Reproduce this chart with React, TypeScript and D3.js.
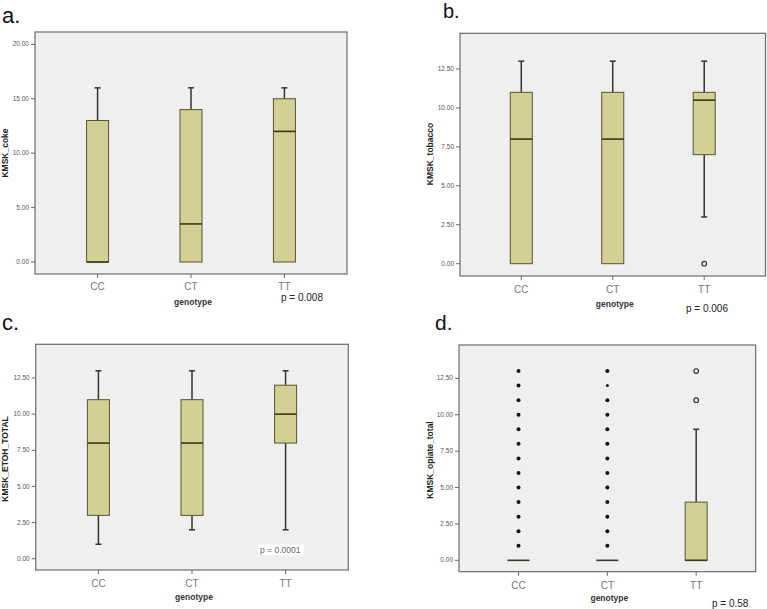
import React from "react";
import * as d3 from "d3";

const genotypes = ["CC", "CT", "TT"];

// a. KMSK_coke
const cokeMin = [0, 0, 0];
const cokeQ1 = [0, 0, 0];
const cokeMedian = [0, 3.5, 12];
const cokeQ3 = [13, 14, 15];
const cokeMax = [16, 16, 16];
const cokeTicks = [0, 5, 10, 15, 20];

// b. KMSK_tobacco
const tobMin = [0, 0, 3];
const tobQ1 = [0, 0, 7];
const tobMedian = [8, 8, 10.5];
const tobQ3 = [11, 11, 11];
const tobMax = [13, 13, 13];
const tobOutliersTT = [0];
const quarterTicks = [0, 2.5, 5, 7.5, 10, 12.5];

// c. KMSK_ETOH_TOTAL
const etohMin = [1, 2, 2];
const etohQ1 = [3, 3, 8];
const etohMedian = [8, 8, 10];
const etohQ3 = [11, 11, 12];
const etohMax = [13, 13, 13];

// d. KMSK_opiate_total
const opMin = [0, 0, 0];
const opQ1 = [0, 0, 0];
const opMedian = [0, 0, 0];
const opQ3 = [0, 0, 4];
const opMax = [0, 0, 9];
const opExtremesCC = [1, 2, 3, 4, 5, 6, 7, 8, 9, 10, 11, 12, 13];
const opExtremesCT = [1, 2, 3, 4, 5, 6, 7, 8, 9, 10, 11, 12, 13];
const opOutliersTT = [11, 13];

type Panel = {
  letter: string;
  letterX: number;
  letterY: number;
  letterSize: number;
  x0: number;
  x1: number;
  y0: number;
  y1: number;
  domain: [number, number];
  ticks: number[];
  ylabel: string;
  ylabelX: number;
  ylabelY: number;
  min: number[];
  q1: number[];
  med: number[];
  q3: number[];
  max: number[];
  filled: number[][];
  open: number[][];
  catY: number;
  genoY: number;
  pText: string;
  pX: number;
  pY: number;
  pBoxed?: boolean;
};

const panels: Panel[] = [
  {
    letter: "a.", letterX: 2, letterY: 23, letterSize: 22,
    x0: 35, x1: 347, y0: 32, y1: 274, domain: [-1.1, 21.13], ticks: cokeTicks,
    ylabel: "KMSK_coke", ylabelX: 8, ylabelY: 153,
    min: cokeMin, q1: cokeQ1, med: cokeMedian, q3: cokeQ3, max: cokeMax,
    filled: [[], [], []], open: [[], [], []],
    catY: 290, genoY: 305, pText: "p = 0.008", pX: 281, pY: 301,
  },
  {
    letter: "b.", letterX: 443, letterY: 18, letterSize: 20,
    x0: 460, x1: 765.5, y0: 33.3, y1: 276, domain: [-0.79, 14.79], ticks: quarterTicks,
    ylabel: "KMSK_tobacco", ylabelX: 433, ylabelY: 154,
    min: tobMin, q1: tobQ1, med: tobMedian, q3: tobQ3, max: tobMax,
    filled: [[], [], []], open: [[], [], tobOutliersTT],
    catY: 293, genoY: 307, pText: "p = 0.006", pX: 686, pY: 312,
  },
  {
    letter: "c.", letterX: 2, letterY: 330, letterSize: 22,
    x0: 35.7, x1: 348.3, y0: 344.3, y1: 570, domain: [-0.78, 14.83], ticks: quarterTicks,
    ylabel: "KMSK_ETOH_TOTAL", ylabelX: 8, ylabelY: 459,
    min: etohMin, q1: etohQ1, med: etohMedian, q3: etohQ3, max: etohMax,
    filled: [[], [], []], open: [[], [], []],
    catY: 586.5, genoY: 599.5, pText: "p = 0.0001", pX: 260, pY: 553, pBoxed: true,
  },
  {
    letter: "d.", letterX: 435, letterY: 330, letterSize: 21,
    x0: 459, x1: 755.7, y0: 345, y1: 571.7, domain: [-0.78, 14.79], ticks: quarterTicks,
    ylabel: "KMSK_opiate_total", ylabelX: 433, ylabelY: 460,
    min: opMin, q1: opQ1, med: opMedian, q3: opQ3, max: opMax,
    filled: [opExtremesCC, opExtremesCT, []], open: [[], [], opOutliersTT],
    catY: 588.5, genoY: 601, pText: "p = 0.58", pX: 712, pY: 607,
  },
];

const FONT = "Arial, 'Liberation Sans', Helvetica, sans-serif";
const BOX_FILL = "#d4cf94";
const BOX_STROKE = "#58552f";
const MED_STROKE = "#3a381c";
const WHISK = "#333333";

function BoxPanel({ p }: { p: Panel }) {
  const x = d3.scalePoint<string>().domain(genotypes).range([p.x0, p.x1]).padding(0.67);
  const y = d3.scaleLinear().domain(p.domain).range([p.y1, p.y0]);
  const fmt = d3.format(".2f");
  const bw = 22;
  const cap = 3;
  return (
    <g>
      <text x={p.letterX} y={p.letterY} fontFamily={FONT} fontSize={p.letterSize} fill="#111">{p.letter}</text>
      <rect x={p.x0} y={p.y0} width={p.x1 - p.x0} height={p.y1 - p.y0} fill="#efefef" stroke="#6b6b6b" strokeWidth={1.2} />
      {p.ticks.map((t) => (
        <g key={t}>
          <line x1={p.x0 - 4} x2={p.x0} y1={y(t)} y2={y(t)} stroke="#666" strokeWidth={1} />
          <text x={p.x0 - 6} y={y(t)} dy="0.33em" textAnchor="end" fontFamily={FONT} fontSize={6.5} fill="#555">{fmt(t)}</text>
        </g>
      ))}
      {genotypes.map((g) => (
        <g key={g}>
          <line x1={x(g)!} x2={x(g)!} y1={p.y1} y2={p.y1 + 4} stroke="#666" strokeWidth={1} />
          <text x={x(g)!} y={p.catY} textAnchor="middle" fontFamily={FONT} fontSize={10} fill="#777">{g}</text>
        </g>
      ))}
      <text x={(p.x0 + p.x1) / 2 + 2} y={p.genoY} textAnchor="middle" fontFamily={FONT} fontSize={8.5} fontWeight="bold" fill="#333">genotype</text>
      <text transform={`translate(${p.ylabelX},${p.ylabelY}) rotate(-90)`} textAnchor="middle" fontFamily={FONT} fontSize={8.5} fontWeight="bold" fill="#222">{p.ylabel}</text>
      {genotypes.map((g, i) => {
        const cx = x(g)!;
        return (
          <g key={g}>
            {p.max[i] > p.q3[i] && (
              <g>
                <line x1={cx} x2={cx} y1={y(p.q3[i])} y2={y(p.max[i])} stroke={WHISK} strokeWidth={1.5} />
                <line x1={cx - cap} x2={cx + cap} y1={y(p.max[i])} y2={y(p.max[i])} stroke={WHISK} strokeWidth={1.5} />
              </g>
            )}
            {p.min[i] < p.q1[i] && (
              <g>
                <line x1={cx} x2={cx} y1={y(p.q1[i])} y2={y(p.min[i])} stroke={WHISK} strokeWidth={1.5} />
                <line x1={cx - cap} x2={cx + cap} y1={y(p.min[i])} y2={y(p.min[i])} stroke={WHISK} strokeWidth={1.5} />
              </g>
            )}
            {p.q3[i] > p.q1[i] ? (
              <rect x={cx - bw / 2} y={y(p.q3[i])} width={bw} height={y(p.q1[i]) - y(p.q3[i])} fill={BOX_FILL} stroke={BOX_STROKE} strokeWidth={1} />
            ) : null}
            <line x1={cx - bw / 2} x2={cx + bw / 2} y1={y(p.med[i])} y2={y(p.med[i])} stroke={MED_STROKE} strokeWidth={1.6} />
            {p.filled[i].map((v) => (
              <circle key={"f" + v} cx={cx} cy={y(v)} r={v === 12 && g === "CT" ? 1.5 : 2} fill="#111" />
            ))}
            {p.open[i].map((v) => (
              <circle key={"o" + v} cx={cx} cy={y(v)} r={2.3} fill="none" stroke="#333" strokeWidth={1.2} />
            ))}
          </g>
        );
      })}
      {p.pBoxed && (
        <rect x={p.pX - 2} y={p.pY - 8.5} width={46} height={11} fill="#ffffff" />
      )}
      <text x={p.pX} y={p.pY} fontFamily={FONT} fontSize={p.pBoxed ? 8.5 : 10} fill={p.pBoxed ? "#666" : "#222"}>{p.pText}</text>
    </g>
  );
}

export default function App() {
  return (
    <svg width={767} height={609} style={{ position: "fixed", left: 0, top: 0, background: "#ffffff" }}>
      <rect width={767} height={609} fill="#ffffff" />
      {panels.map((p) => (
        <BoxPanel key={p.letter} p={p} />
      ))}
    </svg>
  );
}
